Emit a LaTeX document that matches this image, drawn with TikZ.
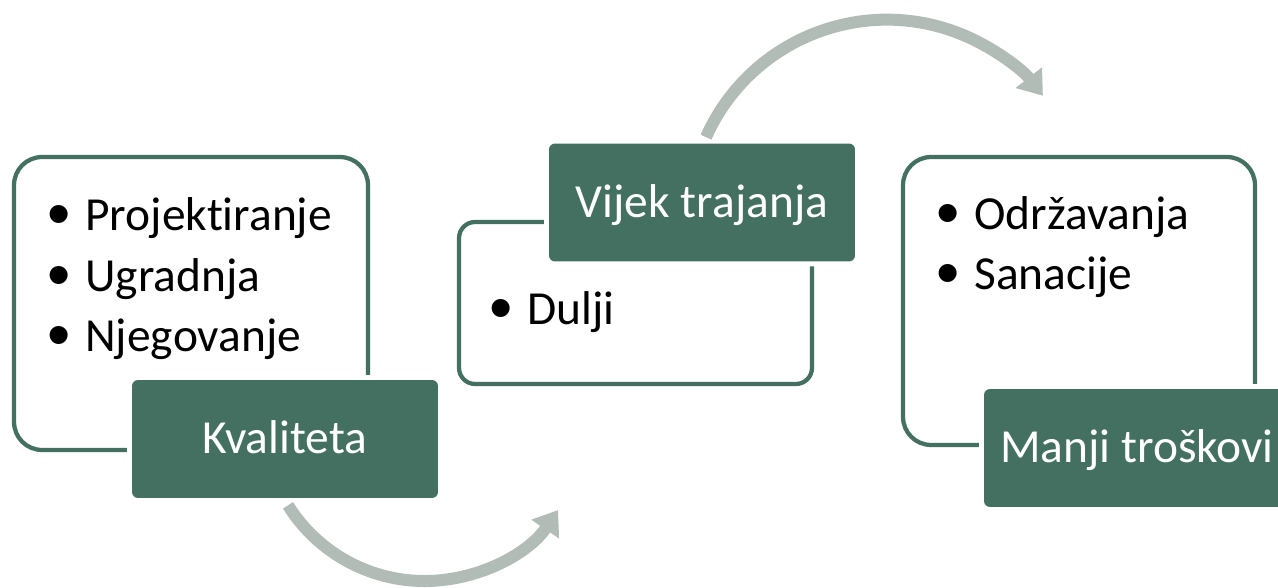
\documentclass[tikz,border=0pt]{standalone}
\usepackage{fontspec}
\usepackage{graphicx}
\setmainfont{Carlito}[RawFeature=-liga]
\newfontfamily\bulletfont{Liberation Sans}
\usetikzlibrary{arrows.meta}

\definecolor{boxgreen}{RGB}{68,112,98}
\definecolor{arcgrey}{RGB}{178,188,183}

\tikzset{
  listbox/.style={draw=boxgreen, line width=0.085cm, fill=white},
  titlebox/.style={fill=boxgreen, text=white, rounded corners=0.12cm,
    preaction={draw=white, line width=0.2cm},
    minimum width=6.12cm, minimum height=2.36cm, inner sep=0pt,
    text height=17pt, text depth=0pt, font=\fontsize{27}{32}\selectfont},
  item/.style={anchor=base west, inner sep=0pt, font=\fontsize{27}{32}\selectfont},
  flow/.style={arcgrey, line width=0.24cm, -{Triangle[width=0.64cm,length=0.46cm]}}
}
\newcommand{\bul}{\llap{\makebox[29.6pt]{\raisebox{-3pt}{\scalebox{1.4}{\bulletfont •}}}}}

\begin{document}
\begin{tikzpicture}[x=0.02cm, y=0.02cm]
        \clip (0,0) rectangle (1278,588);
        % outlined boxes
        \node[listbox, rounded corners=0.56cm, minimum width=7.08cm, minimum height=5.86cm] (box1) at (191,284.5) {};
        \node[listbox, rounded corners=0.32cm, minimum width=7.06cm, minimum height=3.24cm] (box2) at (635.5,285) {};
        \node[listbox, rounded corners=0.56cm, minimum width=7.04cm, minimum height=5.76cm] (box3) at (1079,287) {};
        % title boxes
        \node[titlebox] (kval) at (285,149) {Kvaliteta};
        \node[titlebox] (vijek) at (702,385.5) {Vijek trajanja};
        \node[titlebox] (manji) at (1137,140) {Manji troškovi};
        % bullet items
        \node[item] (proj) at (85,357) {\bul Projektiranje};
        \node[item] (ugr) at (85,296) {\bul Ugradnja};
        \node[item] (njeg) at (85,236) {\bul Njegovanje};
        \node[item] (dulji) at (527,263) {\bul Dulji};
        \node[item] (odrz) at (974,358) {\bul Održavanja};
        \node[item] (san) at (974,298) {\bul Sanacije};
        % arrows
        \draw[flow] ([shift={(3,-7)}]kval.south) arc[start angle=212, end angle=326, radius=161];
        \draw[flow] ([shift={(4,6)}]vijek.north) arc[start angle=156, end angle=38, radius=198];
    \end{tikzpicture}
\end{document}
